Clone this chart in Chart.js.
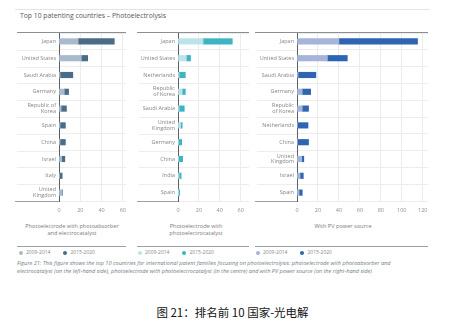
<!DOCTYPE html>
<html><head><meta charset="utf-8">
<script src="https://cdn.jsdelivr.net/npm/chart.js@4.4.1/dist/chart.umd.min.js"></script>
<style>
html,body{margin:0;padding:0;background:#fff;width:475px;height:322px;overflow:hidden;font-family:"Open Sans",sans-serif;}
.abs{position:absolute;}
.hl{position:absolute;height:0;}
.txt{position:absolute;white-space:nowrap;}
.sub{position:absolute;font-size:5.6px;color:#7a7a7a;text-align:center;line-height:7px;}
.leg{position:absolute;font-size:5px;color:#888;white-space:nowrap;}
.dot{display:inline-block;width:4px;height:4px;border-radius:50%;vertical-align:-0.5px;margin-right:3px;}
</style></head><body>
<div class="hl" style="left:15px;top:9px;width:415px;border-top:1px solid #e4e4e4"></div>
<div class="txt" style="left:20px;top:11px;font-size:6.8px;color:#4f5a62;">Top 10 patenting countries – Photoelectrolysis</div>

<div class="hl" style="left:17px;top:32px;width:109px;border-top:1px solid #8a8f94"></div>
<div class="hl" style="left:137px;top:32px;width:112px;border-top:1px solid #8a8f94"></div>
<div class="hl" style="left:255px;top:32px;width:173px;border-top:1px solid #8a8f94"></div>

<div class="hl" style="left:15px;top:201px;width:111px;border-top:1px solid #9aa0a5"></div>
<div class="hl" style="left:137px;top:201px;width:112px;border-top:1px solid #9aa0a5"></div>
<div class="hl" style="left:255px;top:201px;width:173px;border-top:1px solid #9aa0a5"></div>

<canvas id="c1" class="abs" style="left:15px;top:32px"></canvas>
<canvas id="c2" class="abs" style="left:137px;top:32px"></canvas>
<canvas id="c3" class="abs" style="left:255px;top:32px"></canvas>

<div class="sub" style="left:17px;top:223px;width:110px;">Photoelectrode with photoabsorber<br>and electrocatalyst</div>
<div class="sub" style="left:141px;top:223px;width:110px;">Photoelectrode with<br>photoelectrocatalyst</div>
<div class="sub" style="left:288px;top:223px;width:110px;">With PV power source</div>

<div class="hl" style="left:17px;top:246px;width:109px;border-top:1px solid #9aa0a5"></div>
<div class="hl" style="left:137px;top:246px;width:112px;border-top:1px solid #9aa0a5"></div>
<div class="hl" style="left:255px;top:246px;width:173px;border-top:1px solid #9aa0a5"></div>

<div id="legends"></div>

<div class="txt" style="left:17px;top:259px;font-size:5.6px;line-height:8px;font-style:italic;color:#6f7d88;">Figure 21: This figure shows the top 10 countries for international patent families focusing on photoelectrolysis: photoelectrode with photoabsorber and<br>electrocatalyst (on the left-hand side), photoelectrode with photoelectrocatalyst (in the centre) and with PV power source (on the right-hand side)</div>

<div class="txt" style="left:0;width:465px;text-align:center;top:304px;font-size:11.5px;color:#111;font-family:'Noto Sans CJK SC',sans-serif;">图 21：排名前 10 国家-光电解</div>

<script>
// ---- data ----
const seriesNames = ["2009-2014", "2015-2020"];

const cats1 = ["Japan", "United States", "Saudi Arabia", "Germany", ["Republic of", "Korea"], "Spain", "China", "Israel", "Italy", ["United", "Kingdom"]];
const early1 = [18, 21, 1, 5, 2, 1, 1, 2.5, 0.5, 3];
const late1  = [34, 6, 12, 4, 5, 5, 5, 3, 2.5, 0.3];
const ticks1 = [0, 20, 40, 60];

const cats2 = ["Japan", "United States", "Netherlands", ["Republic", "of Korea"], "Saudi Arabia", ["United", "Kingdom"], "Germany", "China", "India", "Spain"];
const early2 = [24, 8, 1, 4, 1, 2.5, 0.5, 0.5, 1, 0.3];
const late2  = [28, 4, 6, 3, 5, 1.5, 3, 4, 2, 1.3];
const ticks2 = [0, 20, 40, 60];

const cats3 = ["Japan", "United States", "Saudi Arabia", "Germany", ["Republic", "of Korea"], "Netherlands", "China", ["United", "Kingdom"], "Israel", "Spain"];
const early3 = [40, 29, 1, 5, 5, 0.5, 0.5, 4.5, 3, 2];
const late3  = [75, 19, 17, 8, 6, 10, 10.5, 2, 3, 3];
const ticks3 = [0, 20, 40, 60, 80, 100, 120];

// ---- drawing ----
const FONT = "'Open Sans', sans-serif";
const extendGrid = {
  id: 'extendGrid',
  beforeDatasetsDraw(chart) {
    const y = chart.scales.y, ctx = chart.ctx, a = chart.chartArea;
    ctx.save();
    ctx.strokeStyle = '#ededed';
    ctx.lineWidth = 1;
    for (let i = 1; i < y.ticks.length; i++) {
      const p = Math.round(y.getPixelForValue(i - 0.5)) + 0.5;
      ctx.beginPath(); ctx.moveTo(2, p); ctx.lineTo(a.left, p); ctx.stroke();
    }
    ctx.restore();
  }
};

function makeChart(id, w, yW, max, cats, early, late, tickVals, cLight, cDark) {
  const cv = document.getElementById(id);
  cv.width = w; cv.height = 184;
  cv.style.width = w + 'px'; cv.style.height = '184px';
  new Chart(cv, {
    type: 'bar',
    data: {
      labels: cats,
      datasets: [
        { label: seriesNames[0], data: early, backgroundColor: cLight, barThickness: 5.5 },
        { label: seriesNames[1], data: late, backgroundColor: cDark, barThickness: 5.5 }
      ]
    },
    plugins: [extendGrid],
    options: {
      indexAxis: 'y',
      responsive: false,
      animation: false,
      devicePixelRatio: 1,
      layout: { padding: { top: 1, right: 0, left: 0, bottom: 0 } },
      plugins: { legend: { display: false }, tooltip: { enabled: false } },
      scales: {
        x: {
          stacked: true, min: 0, max: max,
          afterBuildTicks(s) { s.ticks = tickVals.map(v => ({ value: v })); },
          afterFit(s) { s.height = 15; s.paddingLeft = 0; s.paddingRight = 0; },
          grid: { color: (c) => c.tick && c.tick.value === 0 ? 'rgba(0,0,0,0)' : '#ececec', drawTicks: false },
          border: { display: false },
          ticks: { padding: 6, font: { family: FONT, size: 5.5 }, color: '#8d8d8d', maxRotation: 0 }
        },
        y: {
          stacked: true,
          afterFit(s) { s.width = yW; s.paddingTop = 0; s.paddingBottom = 0; },
          grid: { color: '#ededed', drawTicks: false, offset: true },
          border: { display: true, color: '#56636e', width: 1 },
          ticks: { padding: 3, font: { family: FONT, size: 5.5, lineHeight: 1.05 }, color: '#858585', autoSkip: false }
        }
      }
    }
  });
}

makeChart('c1', 111, 44, 63, cats1, early1, late1, ticks1, '#a9bacd', '#4b6c86');
makeChart('c2', 112, 41, 68, cats2, early2, late2, ticks2, '#bce3ea', '#3db4c3');
makeChart('c3', 173, 42, 125, cats3, early3, late3, ticks3, '#a7b4d9', '#2f64b3');

// legends
const legPos = [[19, '#a9bacd', '#4b6c86'], [138, '#bce3ea', '#3db4c3'], [256, '#a7b4d9', '#2f64b3']];
const L = document.getElementById('legends');
legPos.forEach(([x, c1, c2]) => {
  const d = document.createElement('div');
  d.className = 'leg';
  d.style.left = x + 'px'; d.style.top = '249px';
  d.innerHTML = '<span class="dot" style="background:' + c1 + '"></span>' + seriesNames[0] +
    '<span class="dot" style="background:' + c2 + ';margin-left:13px"></span>' + seriesNames[1];
  L.appendChild(d);
});
</script>
</body></html>
